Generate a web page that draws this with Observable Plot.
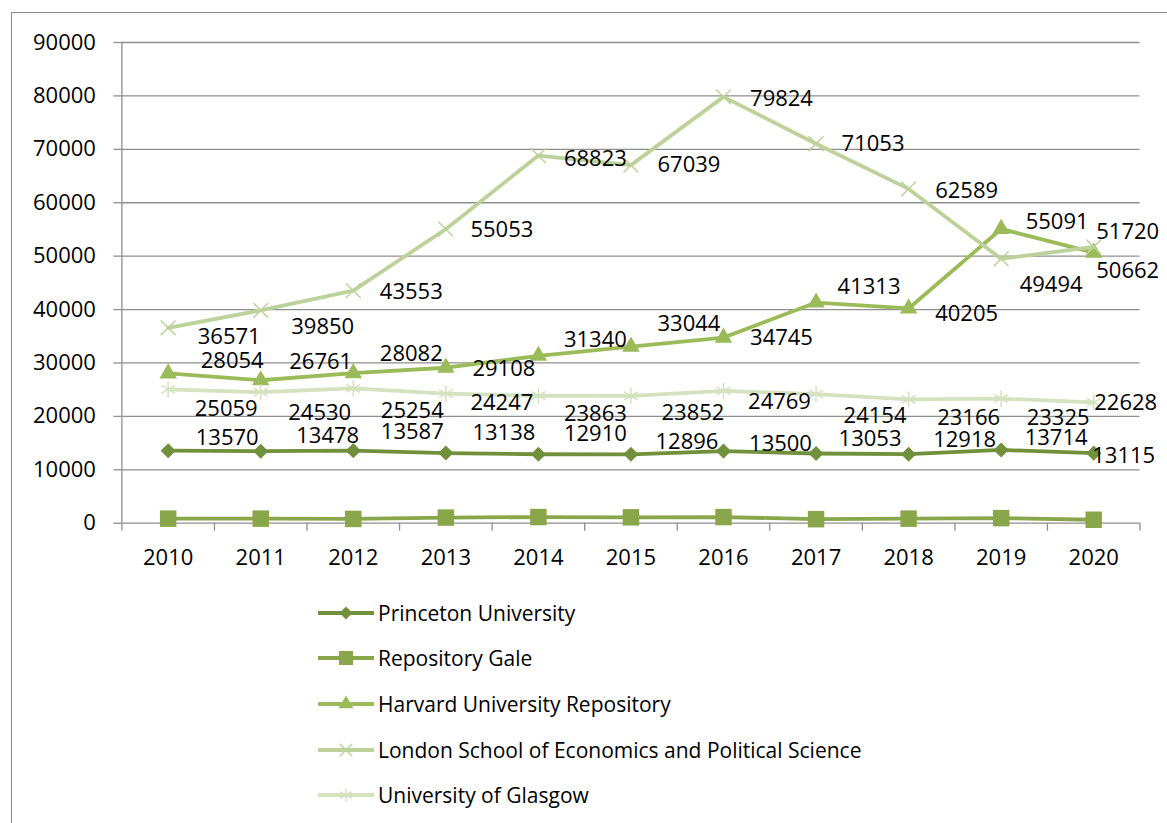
<!DOCTYPE html>
<html><head><meta charset="utf-8">
<script src="https://cdn.jsdelivr.net/npm/d3@7"></script>
<script src="https://cdn.jsdelivr.net/npm/@observablehq/plot@0.6"></script>
<style>
html,body{margin:0;padding:0;background:#fff;overflow:hidden;}
#wrap{position:relative;width:1167px;height:823px;font-family:"Open Sans",sans-serif;color:#000;}
#frame{position:absolute;left:11px;top:12px;width:1220px;height:900px;border:1.5px solid #8c8c8c;box-sizing:border-box;}
#chart{position:absolute;left:0;top:0;}
#legend{position:absolute;left:318px;top:590px;}
.row{height:45.6px;display:flex;align-items:center;font-size:21px;white-space:nowrap;}
.row svg{margin-right:4px;}
</style></head><body>
<div id="wrap"><div id="frame"></div><div id="chart"></div><div id="legend"></div></div>
<script>
// ---- data ----
const years = [2010, 2011, 2012, 2013, 2014, 2015, 2016, 2017, 2018, 2019, 2020];
const princeton = [13570, 13478, 13587, 13138, 12910, 12896, 13500, 13053, 12918, 13714, 13115];
const gale = [850, 850, 800, 1050, 1150, 1100, 1150, 750, 850, 950, 650];
const harvard = [28054, 26761, 28082, 29108, 31340, 33044, 34745, 41313, 40205, 55091, 50662];
const lse = [36571, 39850, 43553, 55053, 68823, 67039, 79824, 71053, 62589, 49494, 51720];
const glasgow = [25059, 24530, 25254, 24247, 23863, 23852, 24769, 24154, 23166, 23325, 22628];
const seriesNames = ["Princeton University", "Repository Gale", "Harvard University Repository",
  "London School of Economics and Political Science", "University of Glasgow"];
const yTicks = [0, 10000, 20000, 30000, 40000, 50000, 60000, 70000, 80000, 90000];

// ---- styles ----
const styles = [
  {values: princeton, color: "#71903C", symbol: "diamond2", r: 6.8, filled: true, labels: true,
   off: [[59,-13],[67,-15],[59,-19],[58,-20],[57,-20],[56,-12],[57,-7],[54,-15],[56,-14],[55,-12],[30,3]]},
  {values: gale, color: "#8AA64A", symbol: "square", r: 9.3, filled: true, labels: false, off: []},
  {values: harvard, color: "#9BBB59", symbol: "triangle", r: 6.5, filled: true, labels: true,
   off: [[64,-12],[60,-18],[58,-19],[58,1],[57,-16],[58,-23],[58,0],[53,-16],[58,5],[56,-7],[34,18]]},
  {values: lse, color: "#BDD29A", symbol: "times", r: 6.8, filled: false, labels: true,
   off: [[61,9],[62,17],[58,1],[56,1],[57,3],[58,0],[58,2],[57,0],[58,2],[50,26],[34,-15]]},
  {values: glasgow, color: "#D5E2BF", symbol: "asterisk", r: 7.6, filled: false, labels: true,
   off: [[58,20],[59,21],[59,23],[56,9],[57,18],[62,17],[56,11],[59,22],[60,18],[57,19],[32,1]]}
];

const H = 590;
const FS = 22;
const gridColor = "#8e8e8e";
const boundaries = years.map(y => y - 0.5).concat([years[years.length - 1] + 0.5]);

const marks = [];
marks.push(Plot.gridY(yTicks, {stroke: gridColor, strokeOpacity: 1, strokeWidth: 1.3}));
marks.push(Plot.ruleX([boundaries[0]], {stroke: gridColor, strokeWidth: 1.3}));
marks.push(Plot.axisY(yTicks, {tickSize: 8, tickPadding: 18, tickFormat: d => String(d), label: null,
  fontSize: FS, stroke: gridColor, fill: "#000", strokeWidth: 1.3}));
marks.push(Plot.axisX(boundaries, {tickSize: 8, tickFormat: () => "", label: null, stroke: gridColor, strokeWidth: 1.3}));
marks.push(Plot.axisX(years, {tickSize: 0, tickPadding: 26, tickFormat: d => String(d), label: null,
  fontSize: FS, fill: "#000"}));

styles.forEach((s, k) => {
  const rows = years.map((yr, i) => ({year: yr, value: s.values[i]}));
  marks.push(Plot.line(rows, {x: "year", y: "value", stroke: s.color, strokeWidth: 3.8, strokeLinejoin: "round"}));
  marks.push(Plot.dot(rows, s.filled
    ? {x: "year", y: "value", symbol: () => s.symbol, r: s.r, fill: s.color, stroke: "none"}
    : {x: "year", y: "value", symbol: () => s.symbol, r: s.r, fill: "none", stroke: s.color, strokeWidth: 1.5}));
});
styles.forEach((s) => {
  if (!s.labels) return;
  years.forEach((yr, i) => {
    marks.push(Plot.text([{year: yr, value: s.values[i]}], {x: "year", y: "value", text: d => String(d.value),
      dx: s.off[i][0], dy: s.off[i][1], fontSize: FS, fill: "#000", textAnchor: "middle"}));
  });
});

const chart = Plot.plot({
  width: 1167, height: H,
  marginLeft: 121.4, marginRight: 27.5, marginTop: 42, marginBottom: H - 522.7,
  style: {fontFamily: '"Open Sans", sans-serif', fontSize: FS + "px", background: "transparent", color: "#000", overflow: "visible"},
  x: {type: "linear", domain: [boundaries[0], boundaries[boundaries.length - 1]], axis: null},
  y: {domain: [0, 90000], axis: null},
  symbol: {type: "identity"},
  marks
});
document.getElementById("chart").appendChild(chart);

// ---- legend ----
const symbolMap = {diamond2: d3.symbolDiamond2, square: d3.symbolSquare, triangle: d3.symbolTriangle, times: d3.symbolTimes, asterisk: d3.symbolAsterisk};
const legend = d3.select("#legend");
styles.forEach((s, k) => {
  const row = legend.append("div").attr("class", "row");
  const svg = row.append("svg").attr("width", 56).attr("height", 24);
  svg.append("line").attr("x1", 0).attr("x2", 56).attr("y1", 12).attr("y2", 12)
    .attr("stroke", s.color).attr("stroke-width", 3.8);
  const size = Math.PI * (s.r * 0.85) * (s.r * 0.85);
  svg.append("path").attr("transform", "translate(28,12)")
    .attr("d", d3.symbol(symbolMap[s.symbol], size)())
    .attr("fill", s.filled ? s.color : "none")
    .attr("stroke", s.filled ? "none" : s.color).attr("stroke-width", 1.5);
  row.append("span").text(seriesNames[k]);
});
</script></body></html>
